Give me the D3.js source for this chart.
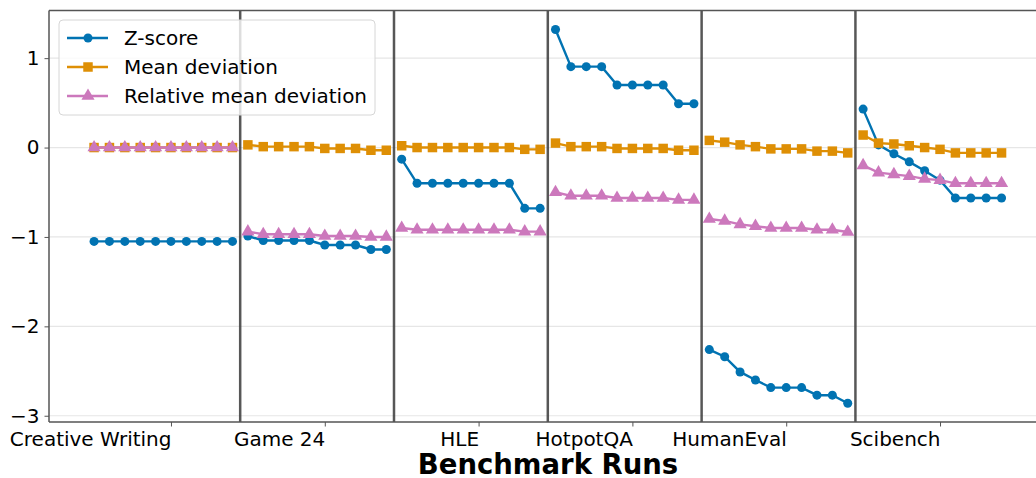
<!DOCTYPE html>
<html>
<head>
<meta charset="utf-8">
<script src="https://cdn.jsdelivr.net/npm/d3@7"></script>
<style>
  body { margin: 0; background: #fff; }
  text { font-family: "DejaVu Sans", sans-serif; }
</style>
</head>
<body>
<script>
// benchmark groups, 10 runs each
var benchmarks = ["Creative Writing", "Game 24", "HLE", "HotpotQA", "HumanEval", "Scibench"];
var runsPerGroup = 10;
var yTicks = [1, 0, -1, -2, -3];

var zScore = [
  -1.05, -1.05, -1.05, -1.05, -1.05, -1.05, -1.05, -1.05, -1.05, -1.05,
  -0.99, -1.04, -1.04, -1.04, -1.04, -1.09, -1.09, -1.09, -1.14, -1.14,
  -0.13, -0.40, -0.40, -0.40, -0.40, -0.40, -0.40, -0.40, -0.68, -0.68,
  1.32, 0.905, 0.905, 0.905, 0.70, 0.70, 0.70, 0.70, 0.49, 0.49,
  -2.26, -2.34, -2.51, -2.60, -2.685, -2.685, -2.685, -2.77, -2.77, -2.86,
  0.43, 0.03, -0.07, -0.16, -0.26, -0.365, -0.565, -0.565, -0.565, -0.565
];
var meanDev = [
  0, 0, 0, 0, 0, 0, 0, 0, 0, 0,
  0.03, 0.01, 0.01, 0.01, 0.01, -0.01, -0.01, -0.01, -0.03, -0.03,
  0.02, 0, 0, 0, 0, 0, 0, 0, -0.02, -0.02,
  0.05, 0.01, 0.01, 0.01, -0.01, -0.01, -0.01, -0.01, -0.03, -0.03,
  0.08, 0.06, 0.03, 0.01, -0.015, -0.015, -0.015, -0.04, -0.04, -0.06,
  0.14, 0.05, 0.04, 0.02, 0, -0.02, -0.06, -0.06, -0.06, -0.06
];
var relMeanDev = [
  0, 0, 0, 0, 0, 0, 0, 0, 0, 0,
  -0.94, -0.97, -0.97, -0.97, -0.97, -0.99, -0.99, -0.99, -1.0, -1.0,
  -0.90, -0.92, -0.92, -0.92, -0.92, -0.92, -0.92, -0.92, -0.94, -0.94,
  -0.50, -0.54, -0.54, -0.54, -0.565, -0.565, -0.565, -0.565, -0.585, -0.585,
  -0.80, -0.82, -0.86, -0.88, -0.90, -0.90, -0.90, -0.92, -0.92, -0.945,
  -0.20, -0.28, -0.30, -0.32, -0.35, -0.365, -0.40, -0.40, -0.40, -0.40
];

var series = [
  {name: "Z-score", values: zScore, color: "#0173b2", symbol: d3.symbolCircle, size: 64},
  {name: "Mean deviation", values: meanDev, color: "#de8f05", symbol: d3.symbolSquare, size: 90},
  {name: "Relative mean deviation", values: relMeanDev, color: "#cc78bc", symbol: d3.symbolTriangle, size: 75}
];

var width = 1036, height = 478;
var plotLeft = 49, plotRight = 1040, plotTop = 10.5, plotBottom = 422;

var svg = d3.select("body").append("svg")
    .attr("width", width)
    .attr("height", height);

var x = d3.scaleLinear()
    .domain([-2.93, 61.5])
    .range([plotLeft, plotRight]);

var y = d3.scaleLinear()
    .domain([-3.07, 1.533])
    .range([plotBottom, plotTop]);

// horizontal grid
svg.append("g").selectAll("line")
    .data(yTicks)
  .enter().append("line")
    .attr("x1", plotLeft).attr("x2", plotRight)
    .attr("y1", function(d) { return y(d); })
    .attr("y2", function(d) { return y(d); })
    .attr("stroke", "#e6e6e6")
    .attr("stroke-width", 1.2);

// group separators
var seps = d3.range(1, benchmarks.length).map(function(g) { return g * runsPerGroup - 0.5; });
svg.append("g").selectAll("line")
    .data(seps)
  .enter().append("line")
    .attr("x1", function(d) { return x(d); })
    .attr("x2", function(d) { return x(d); })
    .attr("y1", plotTop).attr("y2", plotBottom)
    .attr("stroke", "#3a3a3a")
    .attr("stroke-opacity", 0.85)
    .attr("stroke-width", 2.5);

// lines, each group drawn separately
var line = d3.line()
    .x(function(d) { return x(d.i); })
    .y(function(d) { return y(d.v); });

series.forEach(function(s) {
  var pts = s.values.map(function(v, i) { return {i: i, v: v}; });
  var g = svg.append("g");
  benchmarks.forEach(function(b, gi) {
    g.append("path")
      .datum(pts.slice(gi * runsPerGroup, (gi + 1) * runsPerGroup))
      .attr("d", line)
      .attr("fill", "none")
      .attr("stroke", s.color)
      .attr("stroke-width", 2.4);
  });
  g.selectAll("path.pt")
      .data(pts)
    .enter().append("path")
      .attr("class", "pt")
      .attr("d", d3.symbol().type(s.symbol).size(s.size))
      .attr("transform", function(d) { return "translate(" + x(d.i) + "," + y(d.v) + ")"; })
      .attr("fill", s.color);
});

// spines
svg.append("line").attr("x1", plotLeft).attr("x2", plotRight).attr("y1", plotTop).attr("y2", plotTop)
    .attr("stroke", "#555").attr("stroke-width", 1.5);
svg.append("line").attr("x1", plotLeft).attr("x2", plotLeft).attr("y1", plotTop).attr("y2", plotBottom)
    .attr("stroke", "#555").attr("stroke-width", 1.5);

// y axis
var yAxis = svg.append("g")
    .attr("transform", "translate(" + plotLeft + ",0)")
    .call(d3.axisLeft(y).tickValues(yTicks).tickSize(4.5).tickPadding(5)
      .tickFormat(function(d) { return d < 0 ? "\u2212" + Math.abs(d) : d; }));
yAxis.select(".domain").remove();
yAxis.selectAll("line").attr("stroke", "#555");
yAxis.selectAll("text").attr("font-size", 20).attr("fill", "#000")
    .style("font-family", "DejaVu Sans");

// x axis, labels right-aligned to the tick
var centers = benchmarks.map(function(b, gi) { return gi * runsPerGroup + 5; });
var xAxis = svg.append("g")
    .attr("transform", "translate(0," + plotBottom + ")")
    .call(d3.axisBottom(x).tickValues(centers).tickSize(4.5).tickPadding(5)
      .tickFormat(function(d, i) { return benchmarks[i]; }));
xAxis.select(".domain").attr("stroke", "#555").attr("stroke-width", 1.5)
    .attr("d", "M" + plotLeft + ",0H" + plotRight);
xAxis.selectAll("line").attr("stroke", "#555");
xAxis.selectAll("text").attr("font-size", 20).attr("fill", "#000")
    .attr("text-anchor", "end")
    .style("font-family", "DejaVu Sans");

svg.append("text")
    .attr("x", 548).attr("y", 474)
    .attr("text-anchor", "middle")
    .attr("font-size", 27.5)
    .attr("font-weight", "bold")
    .text("Benchmark Runs");

// legend
var legend = svg.append("g").attr("transform", "translate(59,20)");
legend.append("rect")
    .attr("width", 316).attr("height", 95)
    .attr("rx", 4)
    .attr("fill", "#fff").attr("fill-opacity", 0.8)
    .attr("stroke", "#d6d6d6");
var item = legend.selectAll("g.item")
    .data(series)
  .enter().append("g")
    .attr("class", "item")
    .attr("transform", function(d, i) { return "translate(0," + (18 + i * 29) + ")"; });
item.append("line")
    .attr("x1", 8).attr("x2", 49)
    .attr("stroke", function(d) { return d.color; })
    .attr("stroke-width", 2.4);
item.append("path")
    .attr("d", function(d) { return d3.symbol().type(d.symbol).size(d.size)(); })
    .attr("transform", "translate(29,0)")
    .attr("fill", function(d) { return d.color; });
item.append("text")
    .attr("x", 65).attr("dy", "0.35em")
    .attr("font-size", 20)
    .text(function(d) { return d.name; });
</script>
</body>
</html>
